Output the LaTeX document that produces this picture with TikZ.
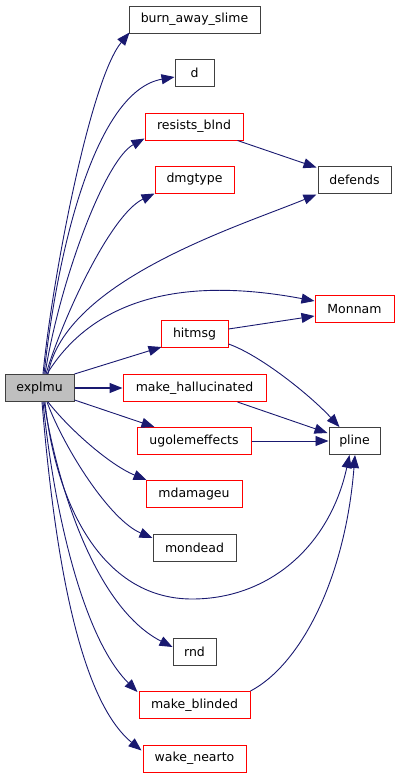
\documentclass[tikz,border=0pt]{standalone}
\usepackage{fontspec}
\setmainfont{DejaVu Sans}
\usetikzlibrary{arrows.meta,calc}
\definecolor{edgeblue}{HTML}{191970}
\definecolor{nodegray}{HTML}{404040}
\definecolor{mainfill}{HTML}{BFBFBF}
\begin{document}
\begin{tikzpicture}[x=1pt,y=-1pt,
  fn/.style={draw=nodegray,line width=1pt,rectangle,minimum height=27pt,inner sep=0pt,font=\fontsize{12.5}{14}\selectfont},
  rn/.style={fn,draw=red},
  edge/.style={draw=edgeblue,line width=0.9pt,-{Triangle[length=13pt,width=10pt]}},
]
\useasboundingbox (0,0) rectangle (400,779);
\node[fn,minimum width=131pt] (burn) at (194.5,19.5) {burn\_away\_slime};
\node[fn,minimum width=39pt] (d) at (194.5,73) {d};
\node[rn,minimum width=98pt] (resists) at (194,126.5) {resists\_blnd};
\node[rn,minimum width=79pt] (dmgtype) at (194.5,179.5) {dmgtype};
\node[fn,minimum width=73pt] (defends) at (354.5,179.5) {defends};
\node[rn,minimum width=79pt] (monnam) at (354.5,309) {Monnam};
\node[rn,minimum width=67pt] (hitmsg) at (194.5,334) {hitmsg};
\node[fn,fill=mainfill,minimum width=69pt] (explmu) at (39.5,388) {explmu};
\node[rn,minimum width=143pt] (mkhall) at (194.5,388) {make\_hallucinated};
\node[rn,minimum width=114pt] (ugolem) at (194,441) {ugolemeffects};
\node[fn,minimum width=51pt] (pline) at (354.5,441) {pline};
\node[rn,minimum width=96pt] (mdamageu) at (194,494) {mdamageu};
\node[fn,minimum width=83pt] (mondead) at (194.5,548) {mondead};
\node[fn,minimum width=43pt] (rnd) at (194.5,652) {rnd};
\node[rn,minimum width=111pt] (mkblind) at (194.5,705) {make\_blinded};
\node[rn,minimum width=103pt] (wake) at (194.5,758.5) {wake\_nearto};

% upward edges from explmu
\draw[edge] ($(explmu.north)+(3.5,0)$) .. controls (52,280) and (90,80) .. ($(burn.south west)+(1,-1)$);
\draw[edge] ($(explmu.north)+(4.5,0)$) .. controls (60,230) and (100,90) .. ($(d.west)+(0,4)$);
\draw[edge] ($(explmu.north)+(5.5,0)$) .. controls (60,280) and (105,160) .. ($(resists.south west)+(0,-2)$);
\draw[edge] ($(explmu.north)+(6.5,0)$) .. controls (62,320) and (110,215) .. (dmgtype.south west);
\draw[edge] ($(explmu.north)+(8.5,0)$) .. controls (65,280) and (240,226) .. ($(defends.south west)+(-1,1)$);
\draw[edge] ($(explmu.north)+(7.5,0)$) .. controls (80,320) and (150,270) .. ($(monnam.west)+(0,-8)$);
\draw[edge] (explmu.north east) -- ($(hitmsg.south west)+(1,-1)$);
\draw[edge,line width=1.4pt] (explmu.east) -- (mkhall.west);
\draw[edge] ($(explmu.south east)+(0,-2)$) -- ($(ugolem.north west)+(18,0)$);

% second-level edges
\draw[edge] ($(resists.south east)+(-6,0)$) -- ($(defends.north west)+(-1,2)$);
\draw[edge] ($(hitmsg.east)+(0,-5)$) -- ($(monnam.west)+(0,7)$);
\draw[edge] ($(hitmsg.east)+(0,10)$) .. controls (260,355) and (310,395) .. ($(pline.north west)+(11,0)$);
\draw[edge] ($(mkhall.south east)+(-29,0)$) -- ($(pline.west)+(-1,-8)$);
\draw[edge] (ugolem.east) -- (pline.west);

% downward edges from explmu
\draw[edge] ($(explmu.south)+(8.5,0)$) .. controls (70,430) and (110,465) .. ($(mdamageu.north west)+(1,0)$);
\draw[edge] ($(explmu.south)+(7.5,0)$) .. controls (65,450) and (110,520) .. ($(mondead.north west)+(0,4)$);
\draw[edge] ($(explmu.south)+(5.5,0)$) .. controls (55,500) and (100,599) .. (192,599)
  .. controls (270,599) and (330,545) .. ($(pline.south)+(-5,0)$);
\draw[edge] ($(explmu.south)+(4.5,0)$) .. controls (60,500) and (100,610) .. ($(rnd.west)+(0,-5)$);
\draw[edge] ($(explmu.south)+(3.5,0)$) .. controls (55,520) and (85,640) .. ($(mkblind.north west)+(-1,1)$);
\draw[edge] ($(explmu.south)+(2.5,0)$) .. controls (55,560) and (80,700) .. ($(wake.north west)+(-1,6)$);
\draw[edge] ($(mkblind.north east)+(0,0)$) .. controls (300,665) and (345,580) .. ($(pline.south)+(0.5,0)$);
\end{tikzpicture}
\end{document}
